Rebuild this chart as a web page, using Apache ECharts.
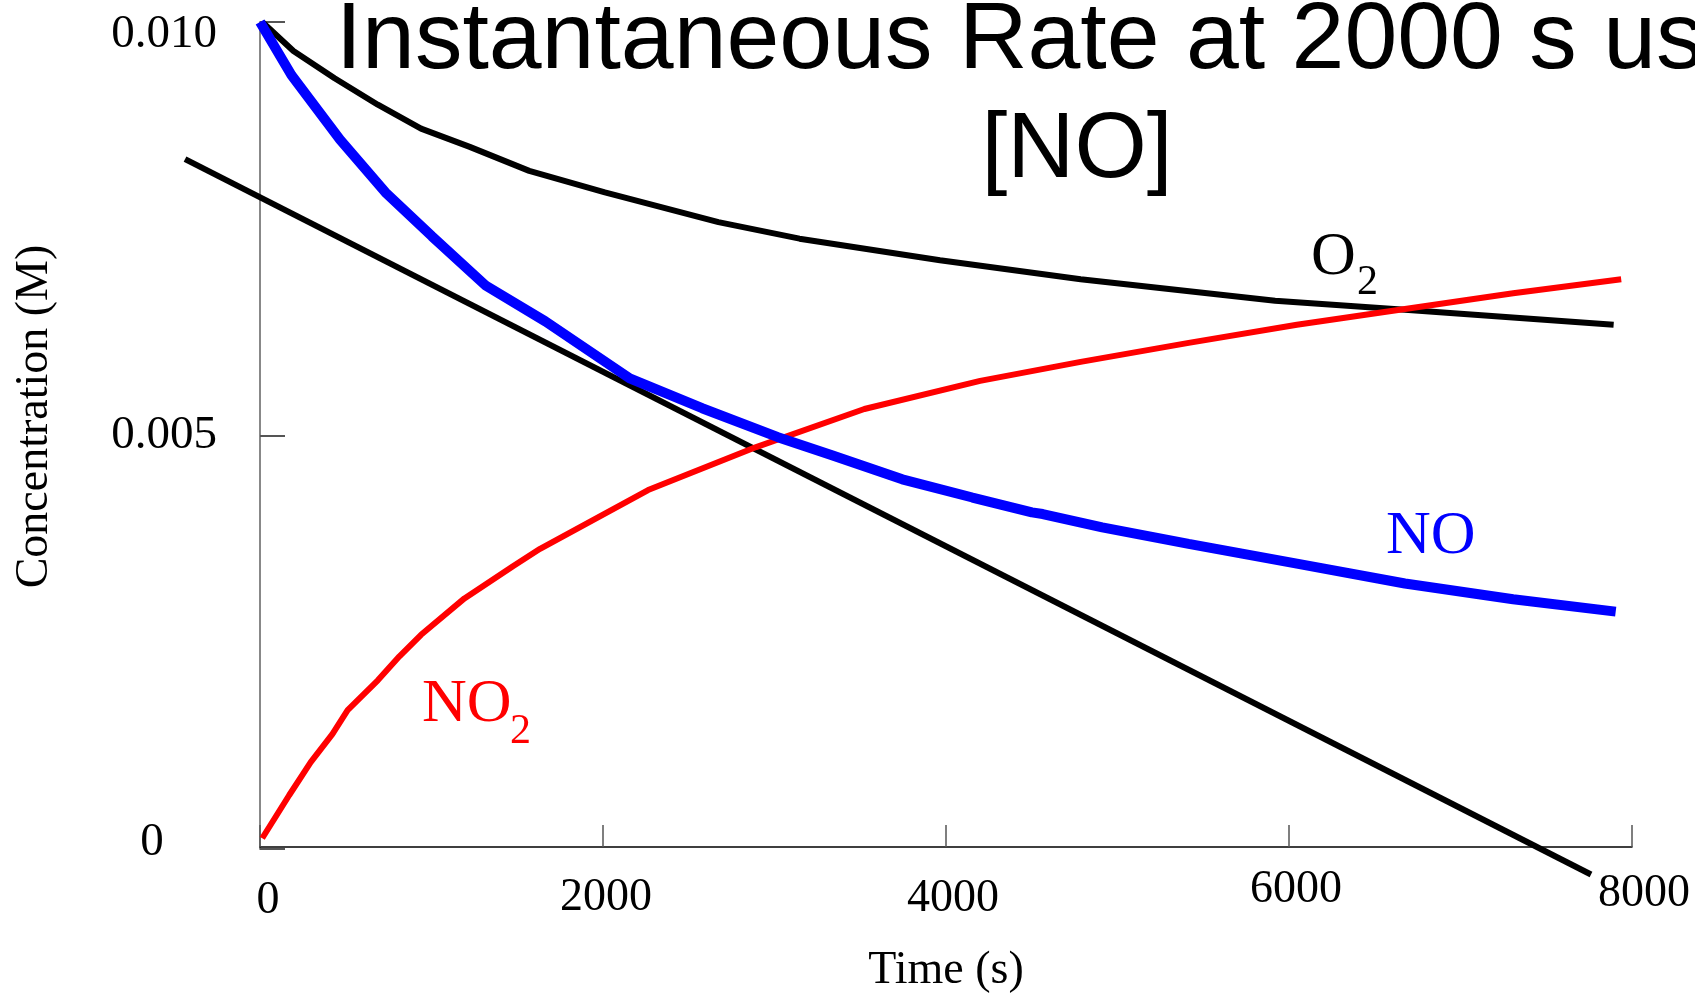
<!DOCTYPE html>
<html>
<head>
<meta charset="utf-8">
<script src="https://cdn.jsdelivr.net/npm/echarts@6/dist/echarts.min.js"></script>
<style>
html,body{margin:0;padding:0;background:#fff;}
#chart{width:1695px;height:999px;}
</style>
</head>
<body>
<div id="chart"></div>
<script>
// ---- data ----
var noTimes   = [0, 183, 466, 731, 1002, 1318, 1664, 2156, 2578, 3020, 3335, 3745, 4154, 4501, 4564, 4911, 5415, 6046, 6676, 7307, 7905];
var noValues  = [0.01000, 0.00936, 0.00858, 0.00794, 0.00741, 0.00681, 0.00638, 0.00569, 0.00533, 0.00498, 0.00476, 0.00447, 0.00425, 0.00407, 0.00405, 0.00389, 0.00369, 0.00345, 0.00321, 0.00302, 0.00287];

var no2Times  = [13, 170, 296, 422, 511, 687, 813, 939, 1192, 1475, 1633, 2263, 2893, 3524, 4199, 4785, 5415, 6046, 6676, 7307, 7937];
var no2Values = [0.00013, 0.00065, 0.00105, 0.00139, 0.00168, 0.00204, 0.00233, 0.00259, 0.00303, 0.00342, 0.00363, 0.00434, 0.00486, 0.00532, 0.00566, 0.00589, 0.00612, 0.00634, 0.00653, 0.00672, 0.00689];

var o2Times   = [13, 195, 435, 687, 939, 1223, 1570, 2011, 2673, 3146, 3965, 4785, 5919, 6676, 7893];
var o2Values  = [0.01000, 0.00965, 0.00932, 0.00900, 0.00871, 0.00849, 0.00820, 0.00794, 0.00758, 0.00738, 0.00712, 0.00689, 0.00663, 0.00652, 0.00634];

// tangent to [NO] at t = 2000 s
var tangentTimes  = [-437, 7761];
var tangentValues = [0.00837, -0.000137];

var xTickLabels = ['0', '2000', '4000', '6000', '8000'];
var yTickLabels = ['0', '0.005', '0.010'];

var titleLine1 = 'Instantaneous Rate at 2000 s using';
var titleLine2 = '[NO]';

function zip(xs, ys){ var r=[]; for (var i=0;i<xs.length;i++) r.push([xs[i], ys[i]]); return r; }

var serif = '"Liberation Serif", "Times New Roman", serif';
var sans  = '"Liberation Sans", Arial, sans-serif';

function tok(pad, size){ return { fontFamily: serif, fontSize: size, color: '#000', padding: pad }; }

var xRich = {
  x0:    tok([11,0,0,16], 46),
  x2000: tok([8,0,0,6],  46),
  x4000: tok([9,0,0,14], 46),
  x6000: tok([0,0,0,14], 46),
  x8000: tok([4,0,0,24], 46)
};
var yRich = {
  y0:   tok([0,24,12,0], 47),
  y1:   tok([0,0,0,0],  47),
  y2:   tok([26,0,0,0], 47)
};

var chart = echarts.init(document.getElementById('chart'), null, {renderer:'canvas'});
chart.setOption({
  animation: false,
  backgroundColor: '#ffffff',
  grid: [
    { left: 260, right: 63, top: 22, bottom: 136, containLabel: false },
    { left: 174.25, right: 63, top: 22, bottom: 136, containLabel: false }
  ],
  xAxis: [{
    type: 'value', gridIndex: 0, min: 0, max: 8000, interval: 2000, offset: -2,
    name: 'Time (s)', nameLocation: 'middle', nameGap: 101,
    nameTextStyle: { fontFamily: serif, fontSize: 46, color: '#000' },
    axisLine: { show: true, lineStyle: { color: '#000', width: 1.5 } },
    axisTick: { show: true, inside: true, length: 22, lineStyle: { color: '#555', width: 1.5 } },
    axisLabel: { margin: 20, fontFamily: serif, fontSize: 46, color: '#000', rich: xRich,
                 formatter: function(v){ var i = Math.round(v/2000); var t = xTickLabels[i]; return '{x' + t + '|' + t + '}'; } },
    splitLine: { show: false }
  }, {
    type: 'value', gridIndex: 1, min: -500, max: 8000, show: false
  }],
  yAxis: [{
    type: 'value', gridIndex: 0, min: 0, max: 0.01, interval: 0.005, offset: 2,
    name: 'Concentration (M)', nameLocation: 'middle', nameGap: 200, nameRotate: 90,
    nameTextStyle: { fontFamily: serif, fontSize: 46, color: '#000', padding: [0,0,0,38] },
    axisLine: { show: true, lineStyle: { color: '#888', width: 2 } },
    axisTick: { show: true, inside: true, length: 25, lineStyle: { color: '#555', width: 2 } },
    axisLabel: { margin: 94, align: 'center', fontFamily: serif, fontSize: 47, color: '#000', rich: yRich,
                 formatter: function(v){ var i = Math.round(v/0.005); return '{y' + i + '|' + yTickLabels[i] + '}'; } },
    splitLine: { show: false }
  }, {
    type: 'value', gridIndex: 1, min: 0, max: 0.01, show: false
  }],
  series: [
    { name: 'O2', type: 'line', xAxisIndex: 0, yAxisIndex: 0, data: zip(o2Times, o2Values),
      showSymbol: false, symbol: 'none', lineStyle: { color: '#000', width: 6 }, z: 3 },
    { name: 'tangent', type: 'line', xAxisIndex: 1, yAxisIndex: 1, data: zip(tangentTimes, tangentValues),
      showSymbol: false, symbol: 'none', clip: false, lineStyle: { color: '#000', width: 6 }, z: 3 },
    { name: 'NO2', type: 'line', xAxisIndex: 0, yAxisIndex: 0, data: zip(no2Times, no2Values),
      showSymbol: false, symbol: 'none', clip: false, lineStyle: { color: '#ff0000', width: 6 }, z: 4 },
    { name: 'NO', type: 'line', xAxisIndex: 0, yAxisIndex: 0, data: zip(noTimes, noValues),
      showSymbol: false, symbol: 'none', clip: false, lineStyle: { color: '#0000ff', width: 10 }, z: 5 }
  ],
  graphic: [
    { type: 'text', x: 1083, y: -14, z: 10,
      style: { text: titleLine1, font: '95px ' + sans, fill: '#000', align: 'center', verticalAlign: 'top', lineHeight: 111 } },
    { type: 'text', x: 1077, y: 96, z: 10,
      style: { text: titleLine2, font: '93px ' + sans, fill: '#000', align: 'center', verticalAlign: 'top', lineHeight: 111 } },
    { type: 'text', x: 1386, y: 537, z: 10,
      style: { text: 'NO', font: '62px ' + serif, fill: '#0000ff', align: 'left', verticalAlign: 'middle' } },
    { type: 'text', x: 1311, y: 258, z: 10,
      style: { text: 'O', font: '62px ' + serif, fill: '#000', align: 'left', verticalAlign: 'middle' } },
    { type: 'text', x: 1357, y: 283, z: 10,
      style: { text: '2', font: '42px ' + serif, fill: '#000', align: 'left', verticalAlign: 'middle' } },
    { type: 'text', x: 422, y: 705, z: 10,
      style: { text: 'NO', font: '62px ' + serif, fill: '#ff0000', align: 'left', verticalAlign: 'middle' } },
    { type: 'text', x: 510, y: 732, z: 10,
      style: { text: '2', font: '42px ' + serif, fill: '#ff0000', align: 'left', verticalAlign: 'middle' } }
  ]
});
</script>
</body>
</html>
